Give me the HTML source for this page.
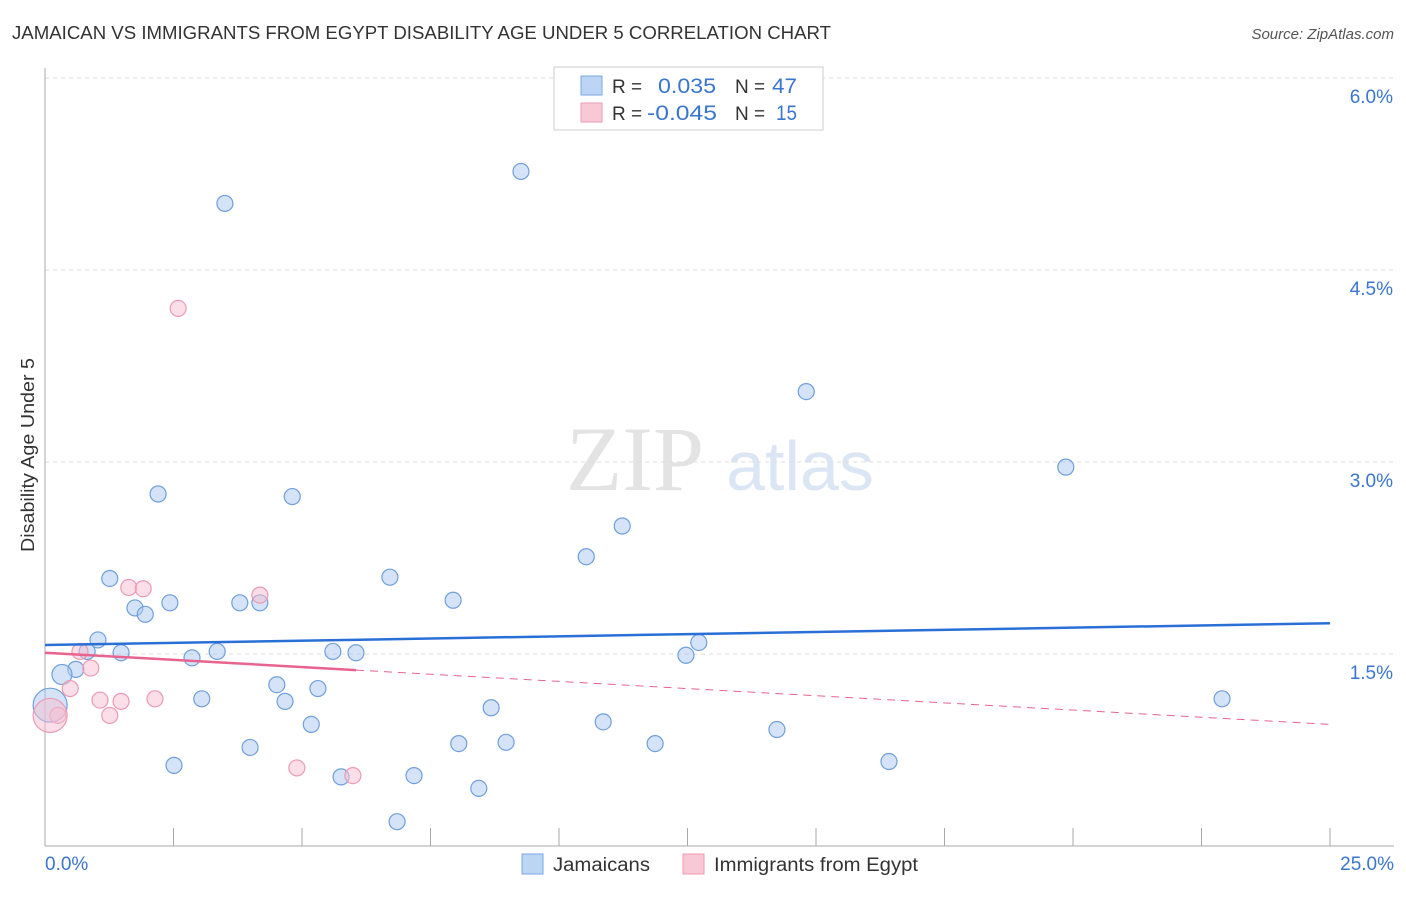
<!DOCTYPE html>
<html><head><meta charset="utf-8"><style>
body{margin:0;background:#fff;font-family:"Liberation Sans",sans-serif;}
svg text{font-family:"Liberation Sans",sans-serif;}
</style></head><body>
<svg width="1406" height="892" xmlns="http://www.w3.org/2000/svg">
<text x="12" y="39" font-size="18" fill="#333" textLength="819" lengthAdjust="spacingAndGlyphs">JAMAICAN VS IMMIGRANTS FROM EGYPT DISABILITY AGE UNDER 5 CORRELATION CHART</text>
<text x="1394" y="39" font-size="15" fill="#555" text-anchor="end" font-style="italic">Source: ZipAtlas.com</text>
<g>
<text x="635" y="490" font-size="92" fill="#e3e3e3" text-anchor="middle" font-family="Liberation Serif" style="font-family:'Liberation Serif',serif">ZIP</text>
<text x="800" y="490" font-size="70" fill="#dbe6f5" text-anchor="middle">atlas</text>
</g>
<g id="grid"></g>
<g id="axes"></g>
<g id="marks"></g>
<text transform="translate(34,455) rotate(-90)" font-size="18" fill="#333" text-anchor="middle" textLength="194" lengthAdjust="spacingAndGlyphs">Disability Age Under 5</text>
<g>
<rect x="554" y="67" width="269" height="63" fill="#fff" stroke="#ccc"/>
<rect x="581" y="76" width="21" height="19" fill="#bcd5f5" stroke="#7aa6e0"/>
<rect x="581" y="103" width="21" height="19" fill="#f9c8d6" stroke="#ec9ab3"/>
<text x="612" y="93" font-size="19" fill="#333">R = </text><text x="658" y="93" font-size="21" fill="#3a75d0" textLength="58" lengthAdjust="spacingAndGlyphs">0.035</text>
<text x="735" y="93" font-size="19" fill="#333">N = </text><text x="772" y="93" font-size="21" fill="#3a75d0" textLength="25" lengthAdjust="spacingAndGlyphs">47</text>
<text x="612" y="120" font-size="19" fill="#333">R = </text><text x="647" y="120" font-size="21" fill="#3a75d0" textLength="70" lengthAdjust="spacingAndGlyphs">-0.045</text>
<text x="735" y="120" font-size="19" fill="#333">N = </text><text x="776" y="120" font-size="21" fill="#3a75d0" textLength="21" lengthAdjust="spacingAndGlyphs">15</text>
</g>
<g>
<rect x="522" y="854" width="21" height="20" fill="#bcd5f5" stroke="#7aa6e0"/>
<text x="553" y="871" font-size="19" fill="#333" textLength="97" lengthAdjust="spacingAndGlyphs">Jamaicans</text>
<rect x="683" y="854" width="21" height="20" fill="#f9c8d6" stroke="#ec9ab3"/>
<text x="714" y="871" font-size="19" fill="#333" textLength="204" lengthAdjust="spacingAndGlyphs">Immigrants from Egypt</text>
</g>
</svg>
<script>
const yTicks=[1.5,3.0,4.5,6.0];
const yTickLabels=["1.5%","3.0%","4.5%","6.0%"];
const xTicks=[2.5,5,7.5,10,12.5,15,17.5,20,22.5,25];
const blueX=[9.26,3.50,14.81,19.86,2.20,4.81,11.23,10.53,1.26,6.71,7.94,2.43,3.79,4.18,1.75,1.95,1.03,12.72,0.82,1.48,5.60,6.05,3.35,2.86,12.47,0.60,0.33,4.51,5.31,3.05,4.67,22.90,0.10,8.68,10.86,5.18,14.24,3.99,8.05,8.97,11.87,2.51,16.42,7.18,5.76,8.44,6.85];
const blueY=[5.27,5.02,3.55,2.96,2.75,2.73,2.50,2.26,2.09,2.10,1.92,1.90,1.90,1.90,1.86,1.81,1.61,1.59,1.52,1.51,1.52,1.51,1.52,1.47,1.49,1.38,1.34,1.26,1.23,1.15,1.13,1.15,1.10,1.08,0.97,0.95,0.91,0.77,0.80,0.81,0.80,0.63,0.66,0.55,0.54,0.45,0.19];
const pinkX=[2.59,1.63,1.91,4.18,0.68,0.89,0.49,1.07,1.48,2.14,1.26,0.25,0.10,4.90,5.99];
const pinkY=[4.20,2.02,2.01,1.96,1.52,1.39,1.23,1.14,1.13,1.15,1.02,1.02,1.02,0.61,0.55];
const blueTrend=[1.57,1.74];
const pinkTrend=[1.51,0.95];
const X0=45,X1=1330,YB=846,PX=128;
const sx=v=>X0+v/25*(X1-X0), sy=v=>YB-v*PX;
const NS="http://www.w3.org/2000/svg";
function mk(t,a,p){const e=document.createElementNS(NS,t);for(const k in a)e.setAttribute(k,a[k]);p.appendChild(e);return e;}
const grid=document.getElementById('grid'),axes=document.getElementById('axes'),marks=document.getElementById('marks');
yTicks.forEach((v,i)=>{
 const l=mk('line',{x1:X0,x2:1394,y1:sy(v),y2:sy(v),stroke:'#ddd','stroke-dasharray':'4,4'},grid);
 
 
 const t=mk('text',{x:1393,y:sy(v)+25,'font-size':19,fill:'#3a75d0','text-anchor':'end'},grid);
 t.textContent=yTickLabels[i];
 
 
});
const ya=mk('line',{x1:X0,x2:X0,y1:68,y2:YB,stroke:'#aaa'},axes);


const xa=mk('line',{x1:X0,x2:1394,y1:YB,y2:YB,stroke:'#aaa'},axes);


xTicks.forEach(v=>{const t=mk('line',{x1:sx(v),x2:sx(v),y1:828,y2:YB,stroke:'#aaa'},axes);
 
 });
const xl0=mk('text',{x:45,y:870,'font-size':19,fill:'#3a75d0'},axes);xl0.textContent='0.0%';


const xl1=mk('text',{x:1394,y:870,'font-size':19,fill:'#3a75d0','text-anchor':'end'},axes);xl1.textContent='25.0%';


const bigR={32:17,26:10};
blueX.forEach((x,i)=>{const c=mk('circle',{cx:sx(x),cy:sy(blueY[i]),r:bigR[i]||8,fill:'rgba(170,200,240,0.5)',stroke:'#6f9fdc','stroke-width':1.2},marks);
 
 });
pinkX.forEach((x,i)=>{const c=mk('circle',{cx:sx(x),cy:sy(pinkY[i]),r:i==12?17:8,fill:'rgba(248,190,208,0.5)',stroke:'#ec9ab3','stroke-width':1.2},marks);
 
 });
const bt=mk('line',{x1:sx(0),y1:sy(blueTrend[0]),x2:sx(25),y2:sy(blueTrend[1]),stroke:'#2a6fd6','stroke-width':2.5},marks);


const pAt=x=>pinkTrend[0]+(pinkTrend[1]-pinkTrend[0])*x/25;
const ps=mk('line',{x1:sx(0),y1:sy(pAt(0)),x2:sx(6.05),y2:sy(pAt(6.05)),stroke:'#e8638e','stroke-width':2.5},marks);


const pd=mk('line',{x1:sx(6.05),y1:sy(pAt(6.05)),x2:sx(25),y2:sy(pAt(25)),stroke:'#e8638e','stroke-width':1,'stroke-dasharray':'8,6'},marks);


</script>
</body></html>
